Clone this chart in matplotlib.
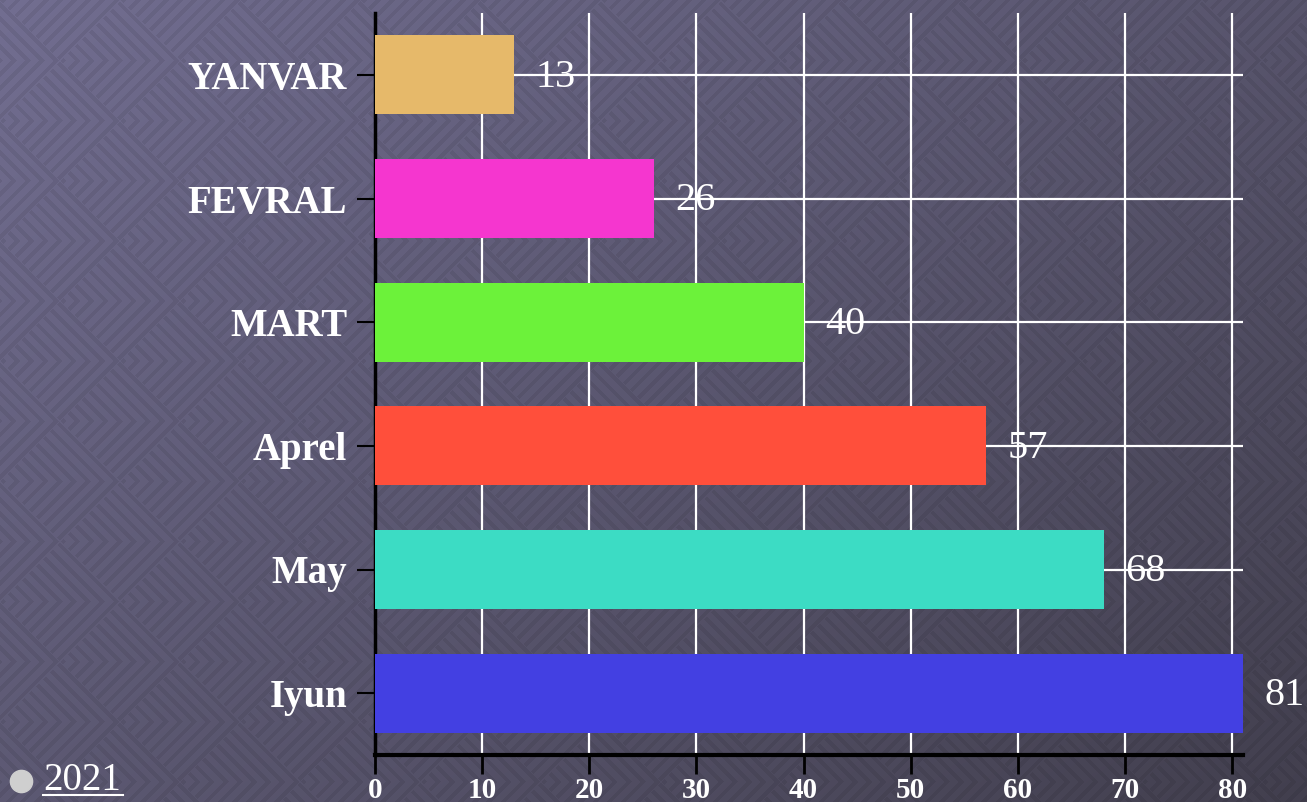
import numpy as np
import matplotlib.pyplot as plt
from matplotlib.lines import Line2D

# chart data, top to bottom as shown
months = ["YANVAR", "FEVRAL", "MART", "Aprel", "May", "Iyun"]
values = [13, 26, 40, 57, 68, 81]
bar_colors = ["#e6b96a", "#f536cf", "#6cf23a", "#ff4f3b", "#3cdcc4", "#4340e2"]
x_ticks = [0, 10, 20, 30, 40, 50, 60, 70, 80]
legend_label = "2021"

W, H = 1307, 802
fig = plt.figure(figsize=(W / 100, H / 100), dpi=100)

# background: diagonal gradient with a faint nested-chevron pattern
yy, xx = np.mgrid[0:H, 0:W].astype(float)
t = (xx / W * 0.55 + yy / H * 0.45)
top = np.array([114, 110, 145]) / 255.0
bot = np.array([66, 63, 78]) / 255.0
base = top[None, None, :] * (1 - t[..., None]) + bot[None, None, :] * t[..., None]
a = (xx + yy) / np.sqrt(2)
b = (xx - yy) / np.sqrt(2)
S = 85.0
la = np.mod(a, S)
lb = np.mod(b, S)
m = np.maximum(la, lb)
stripe = (np.mod(m, 10.0) < 4.0).astype(float)
img = base * (1 - 0.07 * stripe[..., None])
bg = fig.add_axes([0, 0, 1, 1], zorder=-10)
bg.imshow(np.clip(img, 0, 1), aspect="auto", extent=[0, 1, 0, 1], interpolation="bilinear")
bg.axis("off")

serif = "Liberation Serif"

ax = fig.add_axes([375 / W, 1 - 755 / H, (1243 - 375) / W, (755 - 13) / H])
ax.patch.set_alpha(0)

ypos = np.arange(len(months))[::-1]
ax.barh(ypos, values, height=0.64, color=bar_colors, zorder=3)

for y, v in zip(ypos, values):
    ax.text(v + 2.0, y - 0.02, str(v), ha="left", va="center", color="white",
            fontsize=29, family=serif, zorder=4)

ax.set_xlim(0, 81)
ax.set_ylim(-0.5, 5.5)
ax.set_yticks(ypos)
ax.set_yticklabels(months)
ax.set_xticks(x_ticks)

for lab in ax.get_yticklabels():
    lab.set_fontfamily(serif)
    lab.set_fontweight("bold")
    lab.set_fontsize(28)
    lab.set_color("white")
for lab in ax.get_xticklabels():
    lab.set_fontfamily(serif)
    lab.set_fontweight("bold")
    lab.set_fontsize(21)
    lab.set_color("white")

ax.tick_params(axis="y", length=13, width=1.5, color="black", pad=7)
ax.tick_params(axis="x", length=14, width=2, color="black", pad=2)

ax.grid(True, color="white", linewidth=1.6, zorder=1)
ax.set_axisbelow(True)

for side in ["top", "right"]:
    ax.spines[side].set_visible(False)
ax.spines["left"].set_linewidth(2.5)
ax.spines["bottom"].set_linewidth(3)
ax.spines["left"].set_color("black")
ax.spines["bottom"].set_color("black")

# bullet + underlined year at bottom-left
fig.add_artist(Line2D([21 / W], [1 - 781 / H], transform=fig.transFigure,
                      marker="o", markersize=16, color="#cfcfcf", linestyle="none"))
fig.text(43 / W, 1 - 790 / H, legend_label, color="white", fontsize=28,
         family=serif, va="baseline", ha="left")
fig.add_artist(Line2D([43 / W, 123 / W], [1 - 795 / H, 1 - 795 / H],
                      transform=fig.transFigure, color="white", linewidth=1.5))

fig.savefig("out.png", dpi=100)
